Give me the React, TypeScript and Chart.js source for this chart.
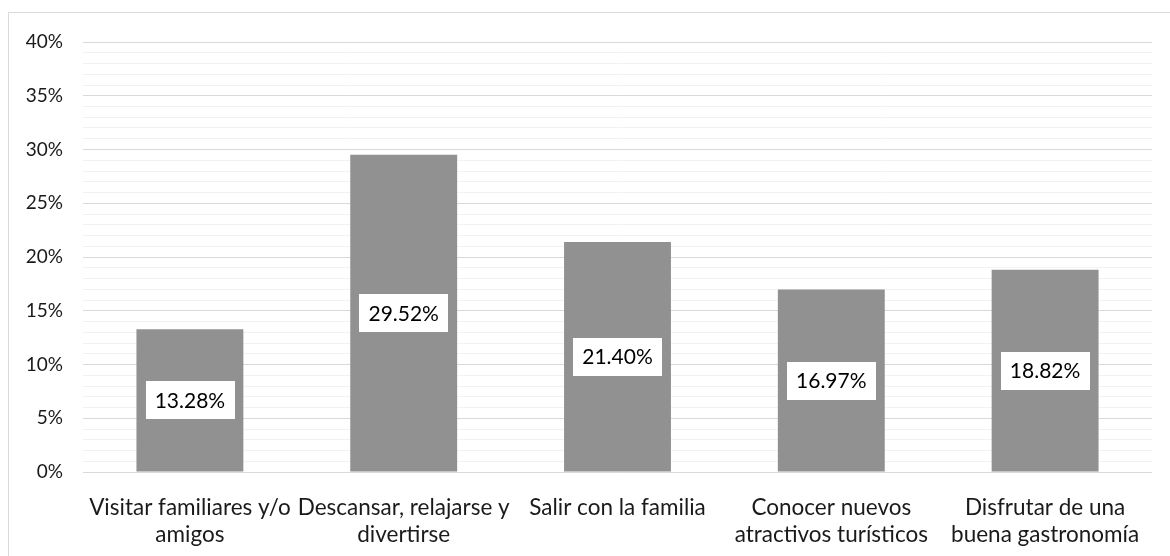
import { useEffect, useRef } from 'react';
import { Chart, registerables } from 'chart.js';

Chart.register(...registerables);

const categories: string[][] = [
  ['Visitar familiares y/o', 'amigos'],
  ['Descansar, relajarse y', 'divertirse'],
  ['Salir con la familia'],
  ['Conocer nuevos', 'atractivos turísticos'],
  ['Disfrutar de una', 'buena gastronomía'],
];
const values = [13.28, 29.52, 21.4, 16.97, 18.82];
const valueLabels = ['13.28%', '29.52%', '21.40%', '16.97%', '18.82%'];
const yMax = 40;
const yMajorStep = 5;

const FONT = 'Lato, "Open Sans", sans-serif';

const borderPlugin = {
  id: 'outerBorder',
  beforeDraw(chart: any) {
    const ctx = chart.ctx;
    ctx.save();
    ctx.strokeStyle = '#d9d9d9';
    ctx.lineWidth = 1;
    ctx.strokeRect(8.5, 12.5, 1300, 700);
    ctx.restore();
  },
};

const labelPlugin = {
  id: 'boxLabels',
  afterDatasetsDraw(chart: any) {
    const ctx = chart.ctx;
    const meta = chart.getDatasetMeta(0);
    ctx.save();
    ctx.font = `21px ${FONT}`;
    ctx.textAlign = 'center';
    ctx.textBaseline = 'middle';
    meta.data.forEach((el: any, i: number) => {
      const text = valueLabels[i];
      const cx = el.x;
      const cy = (el.y + el.base) / 2;
      const w = ctx.measureText(text).width + 18;
      const h = 38;
      ctx.fillStyle = '#ffffff';
      ctx.fillRect(Math.round(cx - w / 2), Math.round(cy - h / 2), Math.round(w), h);
      ctx.fillStyle = '#000000';
      ctx.fillText(text, cx, cy + 1);
    });
    ctx.restore();
  },
};

export default function App() {
  const ref = useRef<HTMLCanvasElement>(null);
  useEffect(() => {
    if (!ref.current) return;
    const chart = new Chart(ref.current, {
      type: 'bar',
      data: {
        labels: categories,
        datasets: [
          {
            data: values,
            backgroundColor: '#919191',
            borderWidth: 0,
            barPercentage: 0.5,
            categoryPercentage: 1,
          },
        ],
      },
      options: {
        responsive: false,
        animation: false,
        layout: { padding: { top: 42, right: 18, left: 0, bottom: 0 } },
        plugins: { legend: { display: false }, tooltip: { enabled: false } },
        scales: {
          x: {
            grid: { display: false },
            border: { display: false },
            ticks: {
              color: '#1a1a1a',
              font: { family: FONT, size: 22.5, lineHeight: 1.2 },
              padding: 14,
              maxRotation: 0,
              autoSkip: false,
            },
            afterFit(scale: any) {
              scale.height = 84;
            },
          },
          y: {
            min: 0,
            max: yMax,
            border: { display: false },
            grid: {
              drawTicks: false,
              lineWidth: 1,
              color: (c: any) =>
                c.tick && c.tick.value % yMajorStep === 0 ? '#d9d9d9' : '#f2f2f2',
            },
            ticks: {
              stepSize: 1,
              autoSkip: false,
              padding: 20,
              color: '#1a1a1a',
              font: { family: FONT, size: 19 },
              callback: (v: any) => (Number(v) % yMajorStep === 0 ? `${v}%` : ''),
            },
            afterFit(scale: any) {
              scale.width = 83;
            },
          },
        },
      },
      plugins: [borderPlugin, labelPlugin],
    });
    return () => chart.destroy();
  }, []);
  return (
    <div style={{ position: 'fixed', left: 0, top: 0, width: 1170, height: 556, background: '#fff' }}>
      <canvas ref={ref} width={1170} height={556} />
    </div>
  );
}
